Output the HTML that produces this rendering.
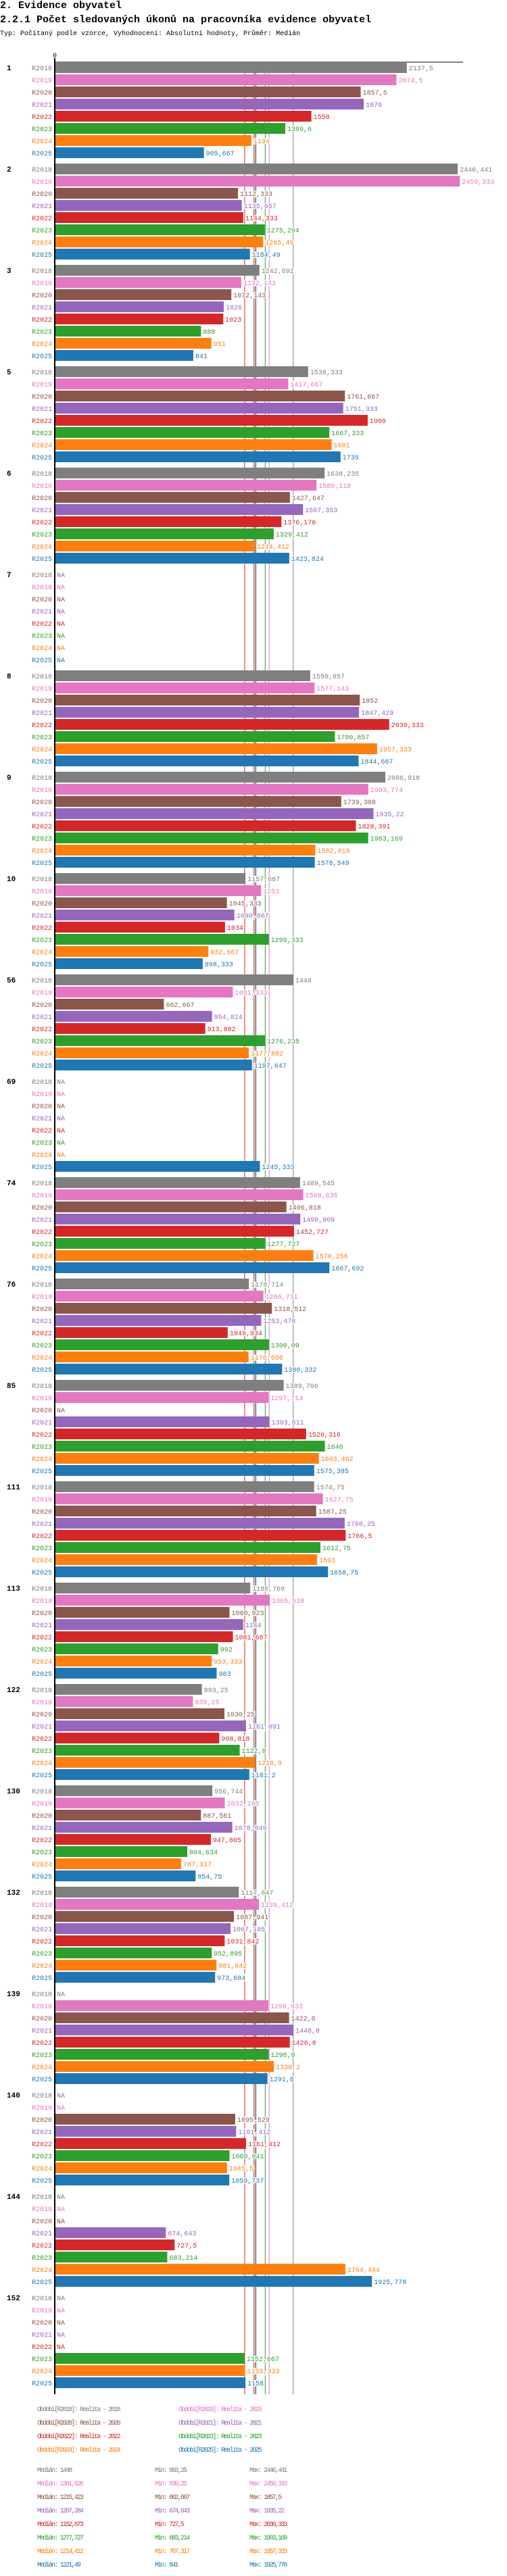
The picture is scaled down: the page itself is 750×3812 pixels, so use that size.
<!DOCTYPE html>
<html><head><meta charset="utf-8">
<style>
html,body{margin:0;padding:0;background:#fff;}
body{width:750px;height:3812px;overflow:hidden;position:relative;font-family:"Liberation Mono",monospace;}
.h{position:absolute;left:0;margin:0;white-space:nowrap;color:#000;}
</style></head>
<body>
<div class="h" style="top:0px;font-size:15px;font-weight:bold;line-height:18px;">2. Evidence obyvatel</div>
<div class="h" style="top:21px;font-size:15px;font-weight:bold;line-height:18px;">2.2.1 Počet sledovaných úkonů na pracovníka evidence obyvatel</div>
<div class="h" style="top:45px;font-size:10px;line-height:12px;">Typ: Počítaný podle vzorce, Vyhodnocení: Absolutní hodnoty, Průměr: Medián</div>
<svg id="chart" width="750" height="3812" style="position:absolute;left:0;top:0" xmlns="http://www.w3.org/2000/svg"></svg>
<script>
const groups = ["1","2","3","5","6","7","8","9","10","56","69","74","76","85","111","113","122","130","132","139","140","144","152"];
const seriesNames = ["R2018","R2019","R2020","R2021","R2022","R2023","R2024","R2025"];
const colors = ["#7f7f7f","#e377c2","#8c564b","#9467bd","#d62728","#2ca02c","#ff7f0e","#1f77b4"];
const N = null;
const r2018 = [2137.5,2446.441,1242.692,1538.333,1638.235,N,1550.857,2006.918,1157.667,1448,N,1489.545,1178.714,1389.706,1574.75,1186.769,893.25,956.744,1117.647,N,N,N,N];
const r2019 = [2074.5,2459.333,1132.143,1417.667,1589.118,N,1577.143,1903.774,1253,1081.333,N,1508.636,1266.771,1297.714,1627.75,1305.538,839.25,1032.195,1239.412,1296.833,N,N,N];
const r2020 = [1857.5,1112.333,1072.143,1761.667,1427.647,N,1852,1739.308,1045.333,662.667,N,1406.818,1318.512,N,1587.25,1060.923,1030.25,887.561,1087.941,1422.6,1095.529,N,N];
const r2021 = [1876,1135.667,1026,1751.333,1507.353,N,1847.429,1935.22,1090.667,954.824,N,1490.909,1253.478,1303.611,1760.25,1144,1161.091,1078.049,1067.105,1448.8,1101.412,674.643,N];
const r2022 = [1558,1144.333,1023,1900,1376.176,N,2030.333,1828.391,1034,913.882,N,1452.727,1049.934,1526.316,1766.5,1081.667,998.818,947.805,1031.842,1426.8,1161.412,727.5,N];
const r2023 = [1399.6,1275.294,888,1667.333,1329.412,N,1700.857,1903.169,1299.333,1276.235,N,1277.727,1300.09,1640,1612.75,992,1122.8,804.634,952.895,1298.8,1060.941,683.214,1152.667];
const r2024 = [1194,1265.49,951,1681,1214.412,N,1957.333,1582.019,932.667,1177.882,N,1570.256,1176.656,1603.462,1593,953.333,1218.9,767.317,981.842,1330.2,1045.5,1764.444,1155.333];
const r2025 = [905.667,1184.49,841,1735,1423.824,N,1844.667,1578.549,898.333,1197.647,1245.333,1667.692,1380.332,1575.385,1658.75,983,1181.2,854.75,973.684,1291.6,1059.737,1925.778,1158];
const medians = [1448,1301.626,1215.423,1207.284,1152.873,1277.727,1214.412,1221.49];
const medianLabels = ["1448","1301,626","1215,423","1207,284","1152,873","1277,727","1214,412","1221,49"];
const mins = ["893,25","839,25","662,667","674,643","727,5","683,214","767,317","841"];
const maxs = ["2446,441","2459,333","1857,5","1935,22","2030,333","1903,169","1957,333","1925,778"];

const series = [r2018,r2019,r2020,r2021,r2022,r2023,r2024,r2025];
const svg = document.getElementById('chart');
const NS = 'http://www.w3.org/2000/svg';
const X0 = 81, SCALE = 0.24365, TOP = 92, GROUP_H = 150, ROW_H = 18, BAR_H = 16;
const xs = v => X0 + v * SCALE;
const ys = (g, s) => TOP + g * GROUP_H + s * ROW_H;
const AXIS_END = ys(groups.length - 1, 7) + 25;
const fmt = v => String(Math.round(v * 1000) / 1000).replace('.', ',');
function mk(tag, attrs, text) {
  const e = document.createElementNS(NS, tag);
  for (const k in attrs) e.setAttribute(k, attrs[k]);
  if (text !== undefined) e.textContent = text;
  svg.appendChild(e);
  return e;
}
// median lines
medians.forEach((m, i) => {
  const l = mk('line', {x1: xs(m), x2: xs(m), y1: TOP, y2: AXIS_END, stroke: colors[i], 'stroke-width': 1});
  
  
});
// axes
const ax = mk('line', {x1: X0, x2: 685, y1: TOP, y2: TOP, stroke: '#000', 'stroke-width': 1});


const zl = mk('text', {x: X0, y: 85, 'font-size': 10, 'font-family': 'Liberation Mono, monospace', 'text-anchor': 'middle'}, '0');


// bars
groups.forEach((g, gi) => {
  const gl = mk('text', {x: 10, y: ys(gi, 0) + 12, 'font-size': 11, 'font-weight': 'bold', 'font-family': 'Liberation Mono, monospace'}, g);
  
  
  series.forEach((arr, si) => {
    const y = ys(gi, si);
    const sl = mk('text', {x: 77, y: y + 12, 'font-size': 10, 'font-family': 'Liberation Mono, monospace', 'text-anchor': 'end', fill: colors[si]}, seriesNames[si]);
    
    
    const v = arr[gi];
    if (v === null) {
      const na = mk('text', {x: 84, y: y + 12, 'font-size': 10, 'font-family': 'Liberation Mono, monospace', fill: colors[si]}, 'NA');
      
      
      return;
    }
    const b = mk('rect', {x: X0, y: y, width: xs(v) - X0, height: BAR_H, fill: colors[si]});
    
    
    const t = mk('text', {x: xs(v) + 3, y: y + 12, 'font-size': 10, 'font-family': 'Liberation Mono, monospace', fill: colors[si], stroke: '#fff', 'stroke-width': 3, 'paint-order': 'stroke'}, fmt(v));
    
    
  });
});
const ay = mk('line', {x1: X0, x2: X0, y1: TOP - 6, y2: AXIS_END, stroke: '#000', 'stroke-width': 2});


// legend
const LEG = {'font-size': 10, 'font-family': 'Liberation Mono, monospace', 'letter-spacing': '-1.8'};
seriesNames.forEach((s, i) => {
  const col = i % 2, row = Math.floor(i / 2);
  const t = mk('text', Object.assign({x: col ? 264 : 55, y: 3568 + row * 20, fill: colors[i]}, LEG), 'Období[' + s + ']: Realita - ' + s.slice(1));
  
  
});
seriesNames.forEach((s, i) => {
  const y = 3658 + i * 20;
  const a = mk('text', Object.assign({x: 55, y: y, fill: colors[i]}, LEG), 'Medián: ' + medianLabels[i]);
  
  
  const b = mk('text', Object.assign({x: 229, y: y, fill: colors[i]}, LEG), 'Min: ' + mins[i]);
  
  
  const c = mk('text', Object.assign({x: 369, y: y, fill: colors[i]}, LEG), 'Max: ' + maxs[i]);
  
  
});
</script>
</body></html>
